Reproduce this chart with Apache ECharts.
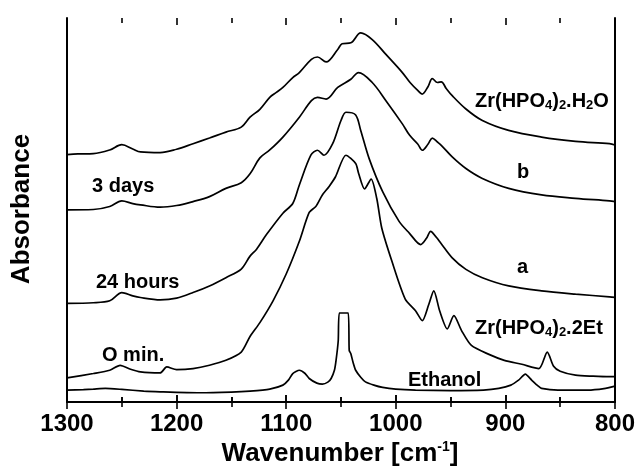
<!DOCTYPE html>
<html>
<head>
<meta charset="utf-8">
<script src="https://cdn.jsdelivr.net/npm/echarts@6/dist/echarts.min.js"></script>
</head>
<body style="margin:0">
<div id="chart" style="width:638px;height:469px"></div>
<script>
// x tick labels / tick marks (wavenumber, cm-1)
var xTicks = [1300, 1200, 1100, 1000, 900, 800];
var xMinorTicks = [1250, 1150, 1050, 950, 850];

// Zr(HPO4)2.H2O (top)
var wnH2O = [1300,1290,1276,1261,1250,1240,1233,1215,1200,1185,1170,1155,1141,1133,1124,1115,1109,1103,1094,1088,1077,1071.5,1063.6,1053,1049,1041,1032,1021.5,1009,994,987,980,976,970.5,966.7,962,958.5,954,948.5,936,921,897,867,836,805,800];
var absH2O = [249.3,250,250.3,254,259.3,255,252,251.3,254.7,260.3,266,272,277,287,295,307,312,317,327,332,345.3,347.7,342.7,355.3,361,362,372,365.3,350.3,332,322,314,310.3,318,326,322,322.7,316,308.7,295.3,283.7,273.7,267,262.7,260.3,259];

// b (3 days)
var wnB = [1300,1276,1261,1250,1240,1233,1215,1200,1185,1170,1155,1141,1133,1124,1115,1103,1088,1077,1071.5,1063.6,1053,1041,1034,1021.5,1009,994,987.5,980,975.8,970.5,966.7,962,958.5,948.5,936,921,897,867,836,805,800];
var absB = [193.7,194,197,202.7,200,198.7,196.3,198,202,207,215.3,221,230,246,254,267,287,303.7,307,305.3,317,325.3,332,322,303.7,280.3,269,260,253.7,260,266,262,258.7,247,235.3,225.3,215.3,208.7,205.3,202.7,202];

// a (24 hours)
var wnA = [1300,1276,1261,1250,1240,1233,1215,1200,1185,1170,1155,1141,1133,1127,1118,1103,1094,1088,1077.5,1071.5,1065.5,1057.6,1050,1045.5,1036.6,1032,1024.3,1012,997,987.5,977.3,972,968.2,963,959,948.5,936,921,897,867,836,805,800];
var absA = [99.3,100,102,110.3,107,105.3,103,104.7,110.3,117,125.3,134,147,154,168.7,190.3,200,218.7,248.7,253.7,248.7,260.3,283.7,292,289.3,273.7,245.3,212,182,170,158.7,165,172,166,160.3,145.3,133.7,125.3,117,112,108.7,106,105.5];

// Zr(HPO4)2.2Et (0 min.)
var wnEt2 = [1300,1276,1261,1251.5,1242,1233,1215,1209,1200,1185,1170,1155,1141,1133,1124,1112,1100,1088,1079,1073,1067,1061,1055,1045.5,1036.6,1033.9,1028.5,1022.5,1017.4,1012.8,1003.6,991.5,982,975.8,970,965.3,960,953,947,940,931,915,901,885,869.4,861.8,856,850,836,820,805,800];
var absEt2 = [24.3,28.7,32,37,33,30.3,29.3,35.3,32.7,33.7,37,42,50.3,66,80,102,129,162,191,197,208.7,217,227,248.7,240.3,230.3,214.7,224.7,205.3,175.3,142,104,92,82,98,112,92,73.7,87,72,57,48,42,38,33.7,50.3,36,31,27,26,25.5,25.5];

// Ethanol (bottom)
var wnEtOH = [1300,1285,1276,1265,1250,1230,1215,1179,1150,1133,1115,1103,1098,1094,1088,1083,1079,1072,1067,1062,1059,1056,1054.5,1052.5,1051.5,1043.4,1042.5,1041,1039,1036.6,1032,1027.7,1020,1012,1000,982,950,920,906,895,888,881.8,876,870,867,852,825,810,800];
var absEtOH = [12,12.5,13,13.7,12.7,11,10.3,9.3,10,11,13,17,22,28.7,32,29,23.7,19,18,20,23.7,32,42,62,89.7,89.7,52,48.7,40,32,25,20.3,17,14.7,13,12,11.5,12,13.7,17,22,28,22,16,13.7,12,12,13.5,16];

var Y_MIN = 0, Y_MAX = 387;

function zip(xs, ys) { return xs.map(function (x, i) { return [x, ys[i]]; }); }

var FONT = '"Liberation Sans", Arial, Helvetica, sans-serif';
var chart = echarts.init(document.getElementById('chart'));

// inward tick segments on bottom and top frame, in data space (1 y-unit = 1 px here)
function tickSegments(values, len) {
  var out = [];
  values.forEach(function (v) {
    out.push([{coord: [v, Y_MIN]}, {coord: [v, Y_MIN + len]}]);
    out.push([{coord: [v, Y_MAX]}, {coord: [v, Y_MAX - len]}]);
  });
  return out;
}

function line(name, xs, ys, sm, withTicks) {
  var s = {
    name: name, type: 'line', xAxisIndex: 0, yAxisIndex: 0,
    data: zip(xs, ys), showSymbol: false, symbol: 'none', smooth: sm,
    lineStyle: {color: '#000', width: 1.7}
  };
  if (withTicks) {
    s.markLine = {
      silent: true, symbol: ['none', 'none'], animation: false,
      label: {show: false},
      lineStyle: {type: 'solid', color: '#000', width: 1.6},
      emphasis: {disabled: true},
      data: tickSegments(xTicks, 7).concat(tickSegments(xMinorTicks, 5))
    };
  }
  return s;
}

function xAxisDef(pos, withLabels) {
  return {
    type: 'value', min: 800, max: 1300, interval: 100, inverse: true, position: pos,
    axisLine: {show: true, lineStyle: {color: '#000', width: 2}},
    axisTick: {show: true, inside: true, length: 7, lineStyle: {color: '#000', width: 1.6}},
    minorTick: {show: true, splitNumber: 2, length: 5, lineStyle: {color: '#000', width: 1.6}},
    splitLine: {show: false},
    axisLabel: withLabels
      ? {show: true, color: '#000', fontSize: 24, fontWeight: 'bold', fontFamily: FONT, margin: 10,
         formatter: function (v) { return String(v); }}
      : {show: true, color: 'rgba(0,0,0,0)', fontSize: 10, formatter: function (v) { return String(v); }}
  };
}

function yAxisDef(pos) {
  return {
    type: 'value', min: Y_MIN, max: Y_MAX, position: pos,
    axisLine: {show: true, lineStyle: {color: '#000', width: 2}},
    axisTick: {show: false}, axisLabel: {show: false}, splitLine: {show: false}
  };
}

function sub() {
  return {
    a: {fontSize: 20, fontWeight: 'bold', fontFamily: FONT, fill: '#000', lineHeight: 22, verticalAlign: 'middle'},
    s: {fontSize: 13, fontWeight: 'bold', fontFamily: FONT, fill: '#000', lineHeight: 10, verticalAlign: 'bottom'}
  };
}

function label(txt, x, y) {
  return {
    type: 'text', x: x, y: y, silent: true,
    style: {text: txt, fill: '#000', font: 'bold 20px ' + FONT, align: 'left', verticalAlign: 'middle'}
  };
}

var labels = [
  {type: 'text', x: 475, y: 101, silent: true,
    style: {text: '{a|Zr(HPO}{s|4}{a|)}{s|2}{a|.H}{s|2}{a|O}', rich: sub(), align: 'left', verticalAlign: 'middle'}},
  {type: 'text', x: 475, y: 328, silent: true,
    style: {text: '{a|Zr(HPO}{s|4}{a|)}{s|2}{a|.2Et}', rich: sub(), align: 'left', verticalAlign: 'middle'}},
  label('b', 517, 172),
  label('a', 517, 267),
  label('3 days', 92, 186),
  label('24 hours', 96, 282),
  label('O min.', 102, 355),
  label('Ethanol', 408, 380),
  {type: 'text', x: 340, y: 454, silent: true,
    style: {text: '{a|Wavenumber [cm}{p|-1}{a|]}', align: 'center', verticalAlign: 'middle',
      rich: {
        a: {fontSize: 26, fontWeight: 'bold', fontFamily: FONT, fill: '#000', lineHeight: 28, verticalAlign: 'middle'},
        p: {fontSize: 14, fontWeight: 'bold', fontFamily: FONT, fill: '#000', lineHeight: 12, verticalAlign: 'top'}
      }}},
  {type: 'text', x: 22, y: 209, rotation: Math.PI / 2, silent: true,
    style: {text: 'Absorbance', fill: '#000', font: 'bold 26px ' + FONT, align: 'center', verticalAlign: 'middle'}}
];

chart.setOption({
  animation: false,
  grid: {left: 67, right: 23, top: 15, bottom: 67},
  xAxis: [xAxisDef('bottom', true), xAxisDef('top', false)],
  yAxis: [yAxisDef('left'), yAxisDef('right')],
  series: [
    line('Zr(HPO4)2.H2O', wnH2O, absH2O, 0.35, false),
    line('b', wnB, absB, 0.35, false),
    line('a', wnA, absA, 0.3, false),
    line('Zr(HPO4)2.2Et', wnEt2, absEt2, 0.25, false),
    line('Ethanol', wnEtOH, absEtOH, 0.2, true)
  ],
  graphic: labels
});
</script>
</body>
</html>
